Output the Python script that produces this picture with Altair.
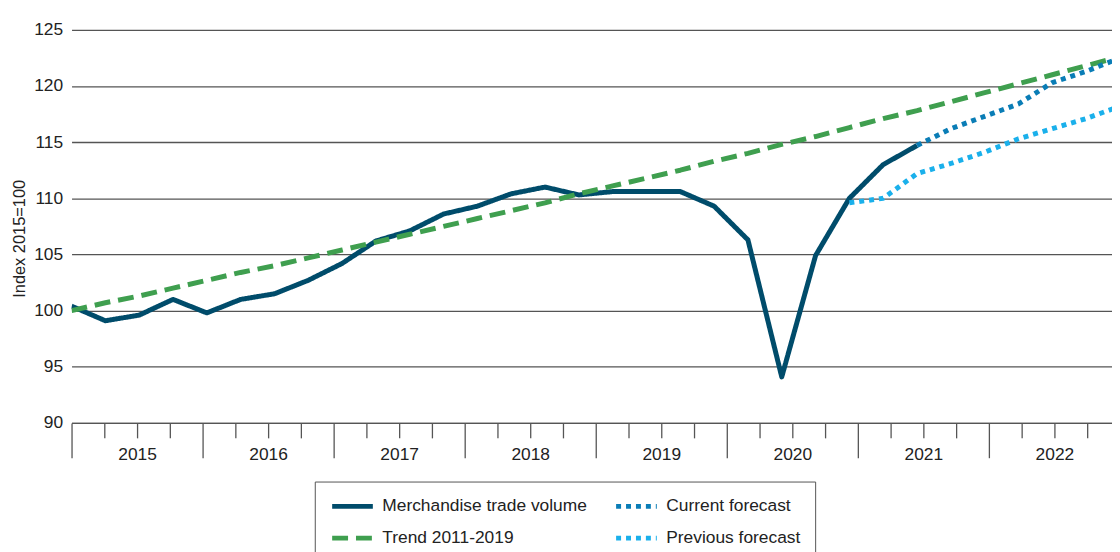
import json
import altair as alt
import pandas as pd

# ---------------- data ----------------
YEARS = ["2015", "2016", "2017", "2018", "2019", "2020", "2021", "2022"]
N_QUARTERS = 32  # 2015Q1 .. 2022Q4

merch_q = list(range(0, 26))
merch_v = [100.4, 99.1, 99.6, 101.0, 99.8, 101.0, 101.5, 102.7, 104.2, 106.2,
           107.1, 108.6, 109.3, 110.4, 111.0, 110.3, 110.6, 110.6, 110.6, 109.3,
           106.3, 94.1, 104.9, 110.0, 113.0, 114.7]

trend_q = list(range(0, 32))
trend_v = [100.0, 100.7, 101.3, 102.0, 102.7, 103.4, 104.0, 104.7, 105.4, 106.1,
           106.8, 107.5, 108.2, 108.9, 109.6, 110.4, 111.1, 111.8, 112.5, 113.3,
           114.0, 114.8, 115.5, 116.3, 117.1, 117.8, 118.6, 119.4, 120.2, 121.0,
           121.8, 122.6]

cur_q = list(range(25, 32))
cur_v = [114.7, 116.2, 117.3, 118.4, 120.3, 121.3, 122.5]

prev_q = list(range(23, 32))
prev_v = [109.6, 110.0, 112.2, 113.1, 114.1, 115.3, 116.2, 117.1, 118.2]

# legend fills columns first: column 1 = first two entries, column 2 = last two
SERIES = ["Merchandise trade volume", "Trend 2011-2019", "Current forecast", "Previous forecast"]
COLORS = ["#004c6b", "#3f9f4f", "#0a7db6", "#1ab0eb"]
DASHES = [[1, 0], [16, 8], [5, 5], [5, 5]]

rows = []
for name, qs, vs in [(SERIES[0], merch_q, merch_v), (SERIES[1], trend_q, trend_v),
                     (SERIES[2], cur_q, cur_v), (SERIES[3], prev_q, prev_v)]:
    for q, v in zip(qs, vs):
        rows.append({"series": name, "q": q, "value": v})
df = pd.DataFrame(rows)

# ---------------- layout ----------------
PLOT_W, PLOT_H = 1048, 396
FULL_W = 1056                      # full axis width; the right end is cut off by the page
X_MAX = (N_QUARTERS - 1) * PLOT_W / FULL_W
FONT = "Liberation Sans"

tick_vals = [k * (N_QUARTERS - 1) / N_QUARTERS for k in range(N_QUARTERS)]
kexpr = f"round(datum.value*{N_QUARTERS}/{N_QUARTERS - 1})"
label_expr = f"({kexpr} % 4 == 2) ? {json.dumps(YEARS)}[floor({kexpr}/4)] : ''"

legend = alt.Legend(
    title=None, orient="none", legendX=245, legendY=455, columns=2, direction="vertical",
    columnPadding=18, rowPadding=11, padding=14, strokeColor="#555555",
    fillColor="white", symbolType="M-2.41,0H2.41", symbolSize=289, symbolStrokeWidth=5,
    symbolOffset=13, labelOffset=19, labelLimit=400,
    labelFontSize=17.5, labelColor="#222222", labelFont=FONT,
)

chart = alt.Chart(df).mark_line(strokeWidth=5, strokeCap="butt", strokeJoin="round", clip=True).encode(
    x=alt.X("q:Q", scale=alt.Scale(domain=[0, X_MAX], nice=False, zero=False),
            axis=alt.Axis(values=tick_vals, title=None, grid=False, domain=True,
                          domainColor="#555555", domainWidth=1.3,
                          tickColor="#555555", tickWidth=1.3,
                          tickSize={"condition": {"test": f"{kexpr} % 4 == 0", "value": 35}, "value": 15},
                          labelExpr=label_expr, labelOverlap=False, labelFlush=False,
                          labelFontSize=17.5, labelColor="#222222", labelFont=FONT,
                          labelPadding=8)),
    y=alt.Y("value:Q", scale=alt.Scale(domain=[90, 125], nice=False, zero=False),
            axis=alt.Axis(values=[90, 95, 100, 105, 110, 115, 120, 125],
                          title="Index 2015=100", titleFontSize=16.5, titleFontWeight="normal",
                          titleColor="#222222", titleFont=FONT, titleX=-52, titleY=210,
                          titleAlign="center", titleBaseline="middle", titleAngle=270,
                          grid=True, gridColor="#555555", gridWidth=1.3,
                          domain=False, ticks=False, labelPadding=9,
                          labelFontSize=17.5, labelColor="#222222", labelFont=FONT)),
    color=alt.Color("series:N", scale=alt.Scale(domain=SERIES, range=COLORS), legend=legend),
    strokeDash=alt.StrokeDash("series:N", scale=alt.Scale(domain=SERIES, range=DASHES), legend=legend),
).properties(
    width=PLOT_W, height=PLOT_H,
    autosize=alt.AutoSizeParams(type="none"),
    padding={"left": 64, "top": 20, "right": 0, "bottom": 128},
    background="white",
).configure_view(stroke=None)

chart.save("out.html", embed_options={"renderer": "svg", "actions": False})
